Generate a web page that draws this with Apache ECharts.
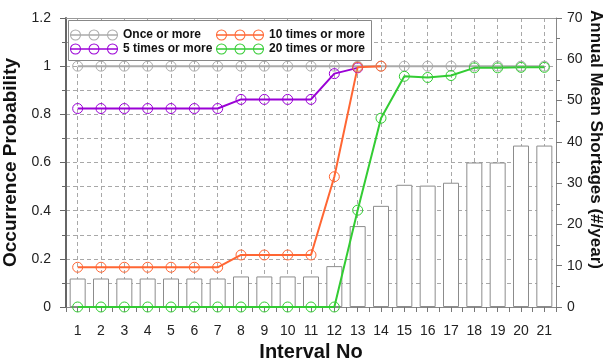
<!DOCTYPE html>
<html>
<head>
<meta charset="utf-8">
<script src="https://cdn.jsdelivr.net/npm/echarts@6/dist/echarts.min.js"></script>
<style>html,body{margin:0;padding:0;background:#fff}#c{width:608px;height:361px}</style>
</head>
<body>
<div id="c"></div>
<script>
const categories = ['1','2','3','4','5','6','7','8','9','10','11','12','13','14','15','16','17','18','19','20','21'];
const onceOrMore   = [1,1,1,1,1,1,1,1,1,1,1,1,1,1,1,1,1,1,1,1,1];
const fiveOrMore   = [0.824,0.824,0.824,0.824,0.824,0.824,0.824,0.862,0.862,0.862,0.862,0.969,0.993,null,null,null,null,null,null,null,null];
const tenOrMore    = [0.165,0.165,0.165,0.165,0.165,0.165,0.165,0.216,0.216,0.216,0.216,0.541,0.996,1,null,null,null,null,null,null,null];
const twentyOrMore = [0,0,0,0,0,0,0,0,0,0,0,0,0.402,0.784,0.958,0.953,0.961,0.993,0.993,0.995,0.995];
const shortages    = [6.9,6.9,6.9,6.9,6.9,6.9,6.9,7.4,7.4,7.4,7.4,9.9,19.6,24.5,29.6,29.4,30.1,35.0,35.0,39.1,39.1];
const seriesNames  = ['Once or more','10 times or more','5 times or more','20 times or more'];

const colors = {'Once or more':'#aaaaaa','5 times or more':'#9a00d6','10 times or more':'#ff6633','20 times or more':'#33cc33'};
const FONT = "'Liberation Sans', Arial, sans-serif";
const GRID = '#a8a8a8';

const iconPath = 'path://M0,4.8 H48 V6.2 H0 Z ' +
  [5.5,24,42.5].map(cx =>
    `M${cx-5.5},5.5 A5.5,5.5 0 1 1 ${cx+5.5},5.5 A5.5,5.5 0 1 1 ${cx-5.5},5.5 Z ` +
    `M${cx-4.5},5.5 A4.5,4.5 0 1 0 ${cx+4.5},5.5 A4.5,4.5 0 1 0 ${cx-4.5},5.5 Z`
  ).join(' ');

function lineSeries(name, data) {
  const c = colors[name];
  return {
    name, type:'line', data, xAxisIndex:0, yAxisIndex:0,
    symbol:'circle', symbolSize:10, showAllSymbol:true,
    lineStyle:{color:c, width:2},
    itemStyle:{color:'rgba(0,0,0,0)', borderColor:c, borderWidth:1},
    emphasis:{disabled:true}, silent:true, connectNulls:false, z:3
  };
}
function legendData(names){
  return names.map(n => ({name:n, icon:iconPath, itemStyle:{color:colors[n], borderWidth:0}}));
}
const legendCommon = {
  orient:'vertical', padding:0, itemGap:2, itemWidth:48, itemHeight:11,
  selectedMode:false, z:10,
  textStyle:{fontFamily:FONT, fontWeight:'bold', fontSize:12, color:'#111'}
};

const chart = echarts.init(document.getElementById('c'), null, {renderer:'canvas'});
chart.setOption({
  animation:false,
  backgroundColor:'#fff',
  grid:{left:66, right:52, top:18, bottom:54, containLabel:false, outerBoundsMode:'none'},
  graphic:[{type:'rect', z:9, shape:{x:68.5, y:20.5, width:303, height:40}, style:{fill:'#fff', stroke:'#888', lineWidth:1}}],
  legend:[
    Object.assign({left:70, top:29, data:legendData([seriesNames[0], seriesNames[2]])}, legendCommon),
    Object.assign({left:216, top:29, data:legendData([seriesNames[1], seriesNames[3]])}, legendCommon)
  ],
  xAxis:[
    {type:'category', data:categories, position:'bottom', boundaryGap:true,
     axisLine:{show:true, lineStyle:{color:'#888', width:1}},
     axisTick:{show:true, length:5, lineStyle:{color:'#777', width:1}},
     axisLabel:{fontFamily:FONT, fontSize:14, color:'#222', margin:17, interval:0},
     splitLine:{show:false},
     name:'Interval No', nameLocation:'middle', nameGap:34,
     nameTextStyle:{fontFamily:FONT, fontSize:20, fontWeight:'bold', color:'#111'}},
    {type:'category', data:categories, position:'bottom', boundaryGap:true,
     axisLine:{show:false},
     axisTick:{show:true, alignWithLabel:true, length:5, interval:0, lineStyle:{color:'#777', width:1}},
     axisLabel:{show:false},
     splitLine:{show:true, alignWithLabel:true, interval:0, lineStyle:{color:GRID, type:[4,3], width:1}}},
    {type:'category', data:categories, position:'top', boundaryGap:true,
     axisLine:{show:true, lineStyle:{color:'#999', width:1}},
     axisTick:{show:false}, axisLabel:{show:false}, splitLine:{show:false}}
  ],
  yAxis:[
    {type:'value', min:0, max:1.2, interval:0.2, position:'left',
     axisLine:{show:true, lineStyle:{color:'#666', width:2}},
     axisTick:{show:true, length:6, lineStyle:{color:'#666', width:1}},
     minorTick:{show:true, splitNumber:2, length:4, lineStyle:{color:'#666', width:1}},
     splitLine:{show:true, lineStyle:{color:GRID, type:[4,3], width:1}},
     minorSplitLine:{show:true, lineStyle:{color:GRID, type:[4,3], width:1}},
     axisLabel:{fontFamily:FONT, fontSize:14, color:'#222', margin:15},
     name:'Occurrence Probability', nameLocation:'middle', nameGap:40,
     nameTextStyle:{fontFamily:FONT, fontSize:19, fontWeight:'bold', color:'#111'}},
    {type:'value', min:0, max:70, interval:10, position:'right',
     axisLine:{show:true, lineStyle:{color:'#888', width:1}},
     axisTick:{show:true, length:6, lineStyle:{color:'#777', width:1}},
     minorTick:{show:true, splitNumber:2, length:4, lineStyle:{color:'#777', width:1}},
     splitLine:{show:false},
     axisLabel:{fontFamily:FONT, fontSize:14, color:'#222', margin:11},
     name:'Annual Mean Shortages (#/year)', nameLocation:'middle', nameGap:31, nameRotate:-90,
     nameMoveOverlap:false,
     nameTextStyle:{fontFamily:FONT, fontSize:17, fontWeight:'bold', color:'#111', padding:[0,46,0,0]}}
  ],
  series:[
    {name:'shortages', type:'bar', data:shortages, xAxisIndex:0, yAxisIndex:1, barWidth:16,
     itemStyle:{color:'#fff', borderColor:'#8c8c8c', borderWidth:1}, silent:true, z:2},
    lineSeries('Once or more', onceOrMore),
    lineSeries('5 times or more', fiveOrMore),
    lineSeries('20 times or more', twentyOrMore),
    lineSeries('10 times or more', tenOrMore)
  ]
});
</script>
</body>
</html>
